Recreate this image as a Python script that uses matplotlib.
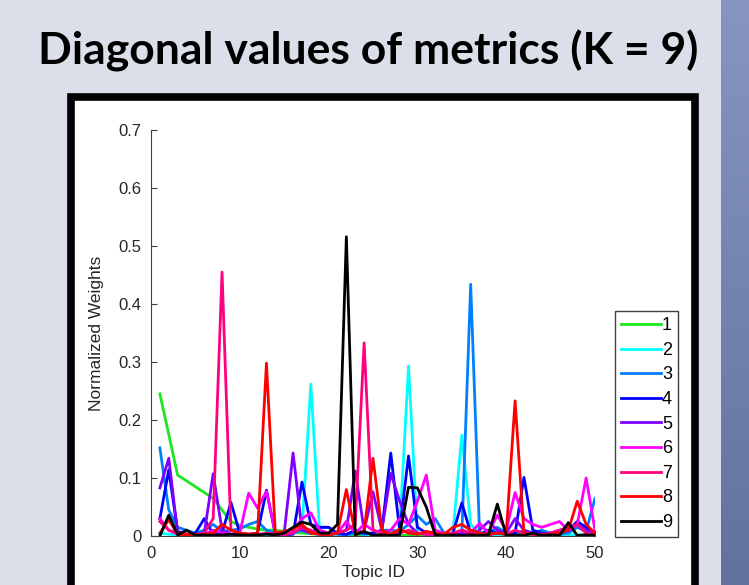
import matplotlib.pyplot as plt
import numpy as np
from matplotlib.patches import Rectangle
from matplotlib.colors import LinearSegmentedColormap

topic_id = np.arange(1, 51)

w1 = [0.245, 0.175, 0.105, 0.095, 0.085, 0.075, 0.065, 0.045, 0.025, 0.018,
      0.015, 0.012, 0.010, 0.010, 0.008, 0.006, 0.005, 0.004, 0.003, 0.003,
      0.002, 0.001, 0.002, 0.001, 0.002, 0.001, 0.002, 0.001, 0.002, 0.001,
      0.002, 0.001, 0.002, 0.001, 0.002, 0.001, 0.002, 0.001, 0.002, 0.001,
      0.002, 0.001, 0.002, 0.001, 0.002, 0.001, 0.002, 0.001, 0.002, 0.001]
w2 = [0.005, 0.003, 0.002, 0.002, 0.002, 0.002, 0.002, 0.002, 0.002, 0.002,
      0.002, 0.002, 0.002, 0.002, 0.002, 0.005, 0.010, 0.262, 0.005, 0.003,
      0.002, 0.003, 0.005, 0.003, 0.002, 0.003, 0.005, 0.010, 0.293, 0.005,
      0.003, 0.002, 0.002, 0.005, 0.174, 0.020, 0.003, 0.002, 0.002, 0.002,
      0.002, 0.002, 0.002, 0.002, 0.002, 0.002, 0.002, 0.002, 0.002, 0.002]
w3 = [0.152, 0.045, 0.015, 0.010, 0.005, 0.010, 0.020, 0.008, 0.010, 0.012,
      0.020, 0.025, 0.010, 0.005, 0.003, 0.005, 0.010, 0.005, 0.015, 0.015,
      0.003, 0.002, 0.005, 0.003, 0.005, 0.010, 0.010, 0.008, 0.020, 0.035,
      0.020, 0.030, 0.005, 0.003, 0.002, 0.434, 0.005, 0.005, 0.015, 0.005,
      0.003, 0.010, 0.005, 0.010, 0.005, 0.003, 0.005, 0.015, 0.008, 0.065]
w4 = [0.030, 0.114, 0.008, 0.003, 0.005, 0.030, 0.003, 0.005, 0.058, 0.005,
      0.003, 0.005, 0.079, 0.003, 0.002, 0.003, 0.093, 0.020, 0.015, 0.015,
      0.005, 0.003, 0.010, 0.005, 0.005, 0.010, 0.143, 0.010, 0.138, 0.015,
      0.005, 0.003, 0.002, 0.005, 0.057, 0.005, 0.003, 0.010, 0.005, 0.003,
      0.005, 0.101, 0.010, 0.005, 0.003, 0.005, 0.010, 0.025, 0.015, 0.003]
w5 = [0.083, 0.134, 0.005, 0.003, 0.002, 0.005, 0.107, 0.010, 0.003, 0.002,
      0.003, 0.002, 0.005, 0.003, 0.005, 0.143, 0.010, 0.005, 0.003, 0.002,
      0.005, 0.010, 0.112, 0.010, 0.076, 0.010, 0.108, 0.060, 0.020, 0.005,
      0.003, 0.002, 0.003, 0.002, 0.005, 0.003, 0.010, 0.025, 0.010, 0.005,
      0.030, 0.010, 0.005, 0.003, 0.005, 0.010, 0.010, 0.020, 0.010, 0.005]
w6 = [0.030, 0.010, 0.003, 0.002, 0.002, 0.003, 0.010, 0.005, 0.003, 0.005,
      0.074, 0.048, 0.077, 0.005, 0.003, 0.010, 0.030, 0.040, 0.010, 0.005,
      0.005, 0.025, 0.005, 0.020, 0.010, 0.005, 0.010, 0.030, 0.020, 0.060,
      0.105, 0.010, 0.005, 0.003, 0.010, 0.005, 0.022, 0.005, 0.036, 0.010,
      0.075, 0.030, 0.020, 0.015, 0.020, 0.025, 0.010, 0.020, 0.100, 0.010]
w7 = [0.025, 0.010, 0.005, 0.003, 0.002, 0.005, 0.030, 0.455, 0.010, 0.005,
      0.003, 0.002, 0.005, 0.003, 0.002, 0.005, 0.015, 0.010, 0.003, 0.002,
      0.005, 0.010, 0.020, 0.333, 0.010, 0.005, 0.003, 0.005, 0.010, 0.005,
      0.003, 0.002, 0.003, 0.005, 0.010, 0.005, 0.003, 0.002, 0.005, 0.003,
      0.010, 0.005, 0.003, 0.002, 0.005, 0.010, 0.015, 0.020, 0.005, 0.002]
w8 = [0.005, 0.028, 0.003, 0.002, 0.002, 0.003, 0.005, 0.020, 0.010, 0.005,
      0.003, 0.005, 0.298, 0.005, 0.008, 0.012, 0.020, 0.005, 0.003, 0.002,
      0.005, 0.080, 0.005, 0.008, 0.134, 0.010, 0.003, 0.012, 0.005, 0.003,
      0.008, 0.005, 0.003, 0.015, 0.020, 0.010, 0.005, 0.003, 0.005, 0.003,
      0.233, 0.005, 0.003, 0.002, 0.003, 0.005, 0.010, 0.060, 0.020, 0.005]
w9 = [0.000, 0.036, 0.002, 0.010, 0.001, 0.002, 0.001, 0.002, 0.003, 0.002,
      0.001, 0.002, 0.003, 0.002, 0.005, 0.015, 0.024, 0.020, 0.005, 0.005,
      0.020, 0.516, 0.002, 0.008, 0.001, 0.002, 0.001, 0.002, 0.084, 0.083,
      0.050, 0.002, 0.001, 0.002, 0.001, 0.002, 0.001, 0.002, 0.055, 0.001,
      0.002, 0.001, 0.005, 0.001, 0.002, 0.001, 0.023, 0.001, 0.002, 0.001]

series = [w1, w2, w3, w4, w5, w6, w7, w8, w9]
labels = ['1', '2', '3', '4', '5', '6', '7', '8', '9']
colors = ['#1ee61e', '#00ffff', '#0080ff', '#0000ff', '#8000ff',
          '#ff00ff', '#ff0080', '#ff0000', '#000000']

W, H = 749, 585
fig = plt.figure(figsize=(W / 100, H / 100), dpi=100, facecolor='#dbdfe9')

# slide background: blue strip on the right and white panel with black border
bg = fig.add_axes([0, 0, 1, 1], zorder=-1)
bg.axis('off')
grad = np.linspace(0, 1, 256).reshape(-1, 1)
cm = LinearSegmentedColormap.from_list('s', ['#8696c0', '#6272a0'])
bg.imshow(grad, aspect='auto', cmap=cm, extent=[721, W, H, 0])
bg.add_patch(Rectangle((71, 97), 695 - 71, 520, facecolor='white',
                       edgecolor='black', linewidth=5.5))
bg.set_xlim(0, W)
bg.set_ylim(H, 0)

fig.text(368 / W, 1 - 51 / H, 'Diagonal values of metrics (K = 9)',
         ha='center', va='center', fontsize=32, fontweight='bold',
         family='Lato', color='black')

ax = fig.add_axes([151 / W, 1 - 536 / H, (595 - 151) / W, (536 - 130) / H])
ax.patch.set_alpha(0)
for vals, lab, c in zip(series, labels, colors):
    ax.plot(topic_id, vals, color=c, linewidth=2, label=lab)

ax.set_xlim(0, 50)
ax.set_ylim(0, 0.7)
ax.set_xticks([0, 10, 20, 30, 40, 50])
ax.set_yticks([0, 0.1, 0.2, 0.3, 0.4, 0.5, 0.6, 0.7])
ax.set_yticklabels(['0', '0.1', '0.2', '0.3', '0.4', '0.5', '0.6', '0.7'])
ax.spines['top'].set_visible(False)
ax.spines['right'].set_visible(False)
for s in ['left', 'bottom']:
    ax.spines[s].set_color('#404040')
ax.tick_params(direction='in', length=4, colors='#404040', labelcolor='#262626',
               labelsize=12, pad=7)
for t in ax.get_xticklabels() + ax.get_yticklabels():
    t.set_family('Liberation Sans')
ax.set_xlabel('Topic ID', family='Liberation Sans', fontsize=12.5,
              color='#262626', labelpad=3)
ax.set_ylabel('Normalized Weights', family='Liberation Sans', fontsize=12.5,
              color='#262626', labelpad=10)

leg = ax.legend(loc='upper left', bbox_to_anchor=(615 / W, 1 - 311 / H),
                bbox_transform=fig.transFigure, fancybox=False, frameon=True,
                edgecolor='#404040', framealpha=1, borderaxespad=0,
                handlelength=2.2, handletextpad=0.05, labelspacing=0.42,
                borderpad=0.35, prop={'family': 'Liberation Sans', 'size': 13})
leg.get_frame().set_linewidth(1)

fig.savefig('out.png', dpi=100, facecolor=fig.get_facecolor())
